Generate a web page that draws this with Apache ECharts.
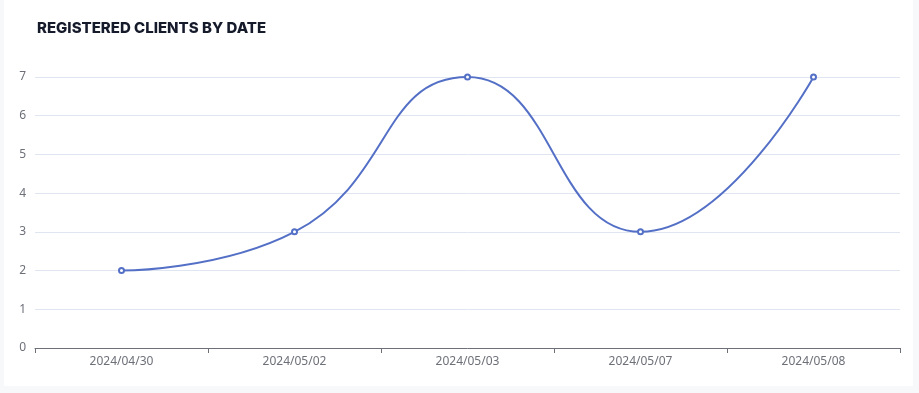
<!DOCTYPE html>
<html>
<head>
<meta charset="utf-8">
<script src="https://cdn.jsdelivr.net/npm/echarts@6/dist/echarts.min.js"></script>
<style>
html,body{margin:0;padding:0;background:#f7f8fa;}
#card{position:absolute;left:4px;top:0;width:909px;height:386px;background:#fff;}
#chart{position:absolute;left:0;top:0;width:919px;height:393px;}
</style>
</head>
<body>
<div id="card"></div>
<div id="chart"></div>
<script>
const titleText = 'REGISTERED CLIENTS BY DATE';
const categories = ['2024/04/30', '2024/05/02', '2024/05/03', '2024/05/07', '2024/05/08'];
const clientCounts = [2, 3, 7, 3, 7];
const yTicks = [0, 1, 2, 3, 4, 5, 6, 7];

const chart = echarts.init(document.getElementById('chart'));
chart.setOption({
  backgroundColor: 'transparent',
  title: {
    text: titleText,
    left: 32, top: 16,
    textStyle: {fontFamily: 'Inter', fontWeight: 800, fontSize: 15, color: '#161b2b'}
  },
  grid: {left: 35, right: 19, top: 77, bottom: 45},
  xAxis: {
    type: 'category',
    data: categories,
    axisLine: {show: true, lineStyle: {color: '#6e7079'}},
    axisTick: {show: true, alignWithLabel: false, length: 5, lineStyle: {color: '#6e7079'}},
    axisLabel: {color: '#6e7079', fontSize: 12, margin: 8, fontFamily: 'Noto Sans'}
  },
  yAxis: {
    type: 'value',
    min: yTicks[0], max: yTicks[yTicks.length - 1], interval: 1,
    axisLabel: {color: '#6e7079', fontSize: 12, margin: 9, fontFamily: 'Noto Sans'},
    splitLine: {lineStyle: {color: '#e0e6f1'}}
  },
  series: [{
    type: 'line',
    data: clientCounts,
    smooth: true,
    symbol: 'emptyCircle',
    symbolSize: 5,
    lineStyle: {color: '#5470c6', width: 2},
    itemStyle: {color: '#5470c6'}
  }]
});
</script>
</body>
</html>
